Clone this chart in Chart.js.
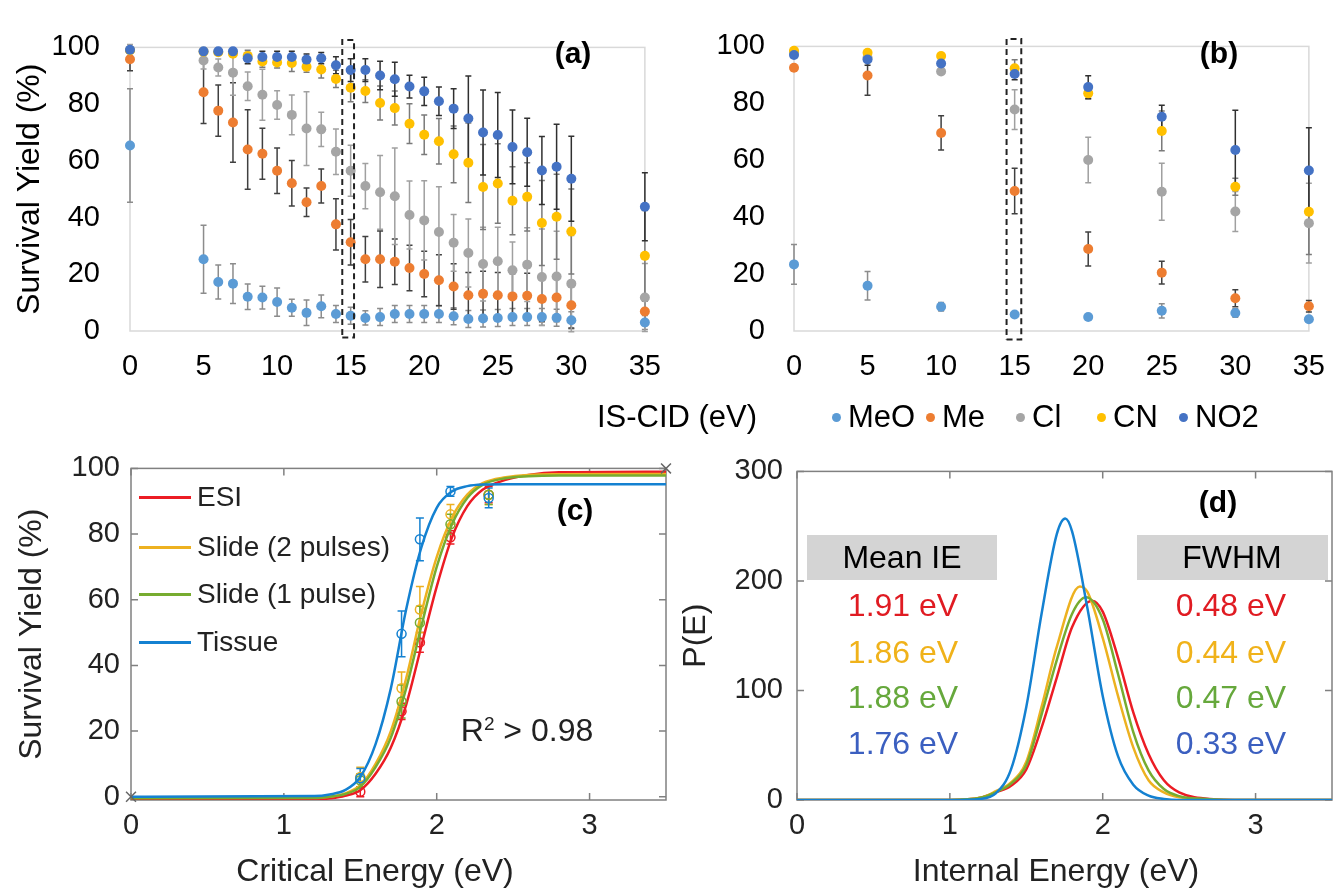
<!DOCTYPE html>
<html>
<head>
<meta charset="utf-8">
<script src="https://cdn.jsdelivr.net/npm/chart.js@4.4.1/dist/chart.umd.min.js"></script>
<style>
  body { margin: 0; background: #fff; font-family: "Liberation Sans", Arial, sans-serif; }
  #wrap { position: relative; width: 1344px; height: 890px; overflow: hidden; }
  canvas { position: absolute; }
  .txt { position: absolute; white-space: nowrap; transform: translate(-50%, -50%); line-height: 1.15; }
</style>
</head>
<body>
<div id="wrap">
  <canvas id="chartA" width="680" height="400" style="left:0;top:0"></canvas>
  <canvas id="chartB" width="664" height="400" style="left:680px;top:0"></canvas>
  <canvas id="chartC" width="690" height="450" style="left:0;top:440px"></canvas>
  <canvas id="chartD" width="664" height="450" style="left:680px;top:440px"></canvas>
</div>
<script>
// ---- panel (a): IS-CID energy, 1 eV steps ----
const cidA = [0, 5, 6, 7, 8, 9, 10, 11, 12, 13, 14, 15, 16, 17, 18, 19, 20, 21, 22, 23, 24, 25, 26, 27, 28, 29, 30, 35];
const meoA = [65.4, 25.3, 17.3, 16.7, 12.1, 11.8, 10.2, 8.2, 6.4, 8.7, 6.0, 5.4, 4.6, 4.9, 6.0, 6.0, 6.0, 6.0, 5.2, 4.2, 4.4, 4.6, 4.9, 4.9, 4.9, 4.7, 3.8, 3.0];
const meA  = [95.8, 84.2, 77.7, 73.5, 64.0, 62.5, 56.5, 52.1, 45.4, 51.1, 37.6, 31.3, 25.3, 25.3, 24.4, 22.2, 20.1, 17.9, 15.7, 12.6, 13.1, 12.6, 12.2, 12.4, 11.3, 11.8, 9.1, 6.9];
const clA  = [99.0, 95.4, 92.9, 91.1, 86.3, 83.3, 79.7, 76.2, 71.4, 71.1, 63.2, 56.5, 51.1, 48.9, 47.5, 40.9, 39.0, 34.9, 31.1, 27.5, 23.6, 24.6, 21.4, 23.4, 19.0, 19.2, 16.7, 11.8];
const cnA  = [99.0, 98.5, 98.3, 97.8, 97.0, 95.0, 94.7, 94.5, 93.2, 92.2, 88.9, 85.8, 84.6, 80.4, 78.6, 73.1, 69.2, 66.9, 62.3, 59.3, 50.8, 52.0, 45.9, 47.3, 38.1, 40.3, 35.1, 26.5];
const no2A = [99.2, 98.6, 98.6, 98.6, 96.2, 96.6, 96.6, 96.6, 95.7, 96.2, 93.7, 92.0, 92.0, 90.1, 88.8, 86.2, 84.5, 81.0, 78.4, 74.9, 70.0, 69.1, 64.9, 63.0, 56.6, 57.9, 53.7, 43.8];
const meoErrA = [20, 12, 6, 7, 4.5, 4, 5, 3, 4.5, 4, 3, 3, 2.5, 3, 3, 3, 3, 3, 3, 3, 3, 3, 3, 3, 3, 3, 3, 2.5];
const meErrA  = [4, 11, 9, 14, 14, 9, 8, 8, 5, 6, 9, 8, 8, 10, 8, 8, 8, 9, 8, 8, 8, 8, 8, 8, 8, 8, 8, 5];
const clErrA  = [2, 3, 3, 8, 5, 9, 5, 7, 13, 6, 8, 9, 8, 13, 17, 12, 14, 16, 10, 12, 13, 12, 10, 13, 17, 16, 17, 12];
const cnErrA  = [1, 1, 1, 1, 2, 2, 2, 3, 2, 3, 3, 5, 4, 6, 6, 7, 7, 8, 10, 14, 15, 14, 12, 12, 15, 15, 15, 16];
const no2ErrA = [1, 1, 1, 1, 2, 2, 2, 2, 2, 2, 3, 4, 4, 5, 6, 4, 5, 5, 7, 15, 15, 15, 13, 12, 12, 15, 15, 12];
const boxAx = [14.43, 15.23, 15.23, 14.43, 14.43];
const boxAy = [-2.3, -2.3, 102.6, 102.6, -2.3];

// ---- panel (b): 5 eV steps ----
const cidB = [0, 5, 10, 15, 20, 25, 30, 35];
const meoB = [23.4, 15.9, 8.5, 5.8, 4.9, 7.1, 6.3, 4.1];
const meB  = [92.5, 89.8, 69.6, 49.2, 28.8, 20.5, 11.5, 8.7];
const clB  = [98.0, 96.0, 91.2, 77.8, 60.1, 48.9, 42.0, 37.9];
const cnB  = [98.5, 97.8, 96.6, 92.3, 83.5, 70.3, 50.7, 41.9];
const no2B = [97.0, 95.4, 94.0, 90.3, 85.7, 75.3, 63.6, 56.4];
const meoErrB = [7, 5, 1.5, 1, 0.5, 2.5, 1.5, 1];
const meErrB  = [1, 7, 6, 8, 6, 4, 3, 2];
const clErrB  = [1, 1, 1, 7, 8, 10, 7, 14];
const cnErrB  = [1, 1, 1, 3, 2, 7, 3, 15];
const no2ErrB = [1, 2, 1, 2, 4, 4, 14, 15];
const boxBx = [14.45, 15.45, 15.45, 14.45, 14.45];
const boxBy = [-3, -3, 102.6, 102.6, -3];

const seriesNames = ['MeO', 'Me', 'Cl', 'CN', 'NO2'];
const seriesColors = ['#5b9bd5', '#ed7d31', '#a5a5a5', '#ffc000', '#4472c4'];
const errColors = ['#8c8c8c', '#404040', '#a0a0a0', '#7a7a7a', '#303030'];

// ---- panel (c): survival yield vs critical energy ----
const methodNames = ['ESI', 'Slide (2 pulses)', 'Slide (1 pulse)', 'Tissue'];
const methodColors = ['#ec1c24', '#edb120', '#77ac30', '#1481d1'];
const critE = [1.50, 1.77, 1.89, 2.09, 2.34];
const esiPts    = [1.5, 26, 47, 79, 92];
const slide2Pts = [6, 33, 57, 86, 92];
const slide1Pts = [5, 29, 53, 83, 92];
const tissuePts = [5.6, 49.6, 78.4, 93, 91];
const esiErr    = [1.5, 2.5, 3, 2, 2.5];
const slide2Err = [3, 5, 7, 3, 3];
const slide1Err = [2, 5, 5, 3, 3];
const tissueErr = [3, 7, 6.5, 1.5, 3];
const fitE = [0, 1.2, 1.3, 1.4, 1.5, 1.6, 1.7, 1.8, 1.9, 2.0, 2.1, 2.2, 2.3, 2.45, 2.6, 2.8, 3.5];
const esiFit    = [-1, -0.9, -0.5, 0.3, 2, 7, 15, 28, 46, 64, 79, 88.5, 93.5, 96.5, 98, 98.8, 99];
const slide2Fit = [-0.3, -0.2, 0, 1, 3.5, 10, 20, 36, 56, 73, 85, 92, 95.5, 97.3, 98, 98.2, 98.3];
const slide1Fit = [-0.5, -0.4, 0, 0.8, 3, 9, 18, 33, 52, 70, 83, 91, 95, 97, 97.6, 97.8, 97.8];
const tissueFit = [0, 0.2, 0.7, 2, 6, 16, 33, 57, 76, 88, 93, 94.6, 95.1, 95.2, 95.2, 95.2, 95.2];
const crossX = [0, 3.5];
const crossY = [0, 100];

// ---- panel (d): internal energy distributions ----
const esiE    = [0, 1.0, 1.2, 1.3, 1.4, 1.5, 1.6, 1.7, 1.8, 1.93, 2.0, 2.1, 2.2, 2.3, 2.4, 2.5, 2.7, 3.0, 3.5];
const esiP    = [0, 0, 2, 7, 13, 28, 66, 112, 158, 182, 172, 130, 80, 42, 18, 7, 1, 0, 0];
const slide2E = [0, 1.0, 1.2, 1.3, 1.4, 1.5, 1.6, 1.7, 1.85, 1.9, 2.0, 2.1, 2.2, 2.3, 2.4, 2.5, 2.7, 3.0, 3.5];
const slide2P = [0, 0, 2, 8, 16, 35, 85, 140, 195, 190, 148, 95, 48, 18, 7, 2.5, 0.5, 0, 0];
const slide1E = [0, 1.0, 1.2, 1.3, 1.4, 1.5, 1.6, 1.7, 1.8, 1.89, 2.0, 2.1, 2.2, 2.3, 2.4, 2.5, 2.7, 3.0, 3.5];
const slide1P = [0, 0, 2, 7, 15, 32, 78, 128, 170, 185, 165, 115, 62, 27, 10, 3.5, 0.8, 0, 0];
const tissueE = [0, 1.0, 1.2, 1.3, 1.4, 1.5, 1.6, 1.7, 1.755, 1.8, 1.9, 2.0, 2.1, 2.2, 2.3, 2.4, 2.5, 3.5];
const tissueP = [0, 0, 1, 6, 28, 85, 170, 243, 257, 245, 175, 95, 40, 14, 4, 1, 0, 0];
const meanIE = ['1.91 eV', '1.86 eV', '1.88 eV', '1.76 eV'];
const fwhm = ['0.48 eV', '0.44 eV', '0.47 eV', '0.33 eV'];
const statColors = ['#e01b22', '#f0b21a', '#66a83c', '#3b5fc0'];

Chart.defaults.font.family = '"Liberation Sans", Arial, sans-serif';
Chart.defaults.color = '#000';
Chart.defaults.animation = false;
Chart.defaults.plugins.legend.display = false;
Chart.defaults.plugins.tooltip.enabled = false;

const pts = (xs, ys) => xs.map((x, i) => ({ x: x, y: ys[i] }));

// plot frame, optionally with inward tick marks on all four sides
const framePlugin = {
  id: 'frame',
  beforeDatasetsDraw(chart, args, opts) {
    const { ctx, chartArea: a } = chart;
    ctx.save();
    ctx.strokeStyle = opts.color;
    ctx.lineWidth = opts.width;
    ctx.strokeRect(a.left, a.top, a.right - a.left, a.bottom - a.top);
    if (opts.innerTicks) {
      const len = 7;
      ctx.beginPath();
      chart.scales.x.ticks.forEach(t => {
        const px = chart.scales.x.getPixelForValue(t.value);
        ctx.moveTo(px, a.bottom); ctx.lineTo(px, a.bottom - len);
        ctx.moveTo(px, a.top); ctx.lineTo(px, a.top + len);
      });
      chart.scales.y.ticks.forEach(t => {
        const py = chart.scales.y.getPixelForValue(t.value);
        ctx.moveTo(a.left, py); ctx.lineTo(a.left + len, py);
        ctx.moveTo(a.right, py); ctx.lineTo(a.right - len, py);
      });
      ctx.stroke();
    }
    ctx.restore();
  }
};

// vertical error bars for datasets that carry an `errors` array
const errorBarPlugin = {
  id: 'errorBars',
  beforeDatasetsDraw(chart) {
    const { ctx } = chart;
    const x = chart.scales.x, y = chart.scales.y;
    chart.data.datasets.forEach(ds => {
      if (!ds.errors) return;
      ctx.save();
      ctx.strokeStyle = ds.errorColor;
      ctx.lineWidth = ds.errorWidth || 1.5;
      const cap = ds.errorCap || 3;
      ds.data.forEach((p, j) => {
        const e = ds.errors[j];
        const px = x.getPixelForValue(p.x);
        const top = y.getPixelForValue(p.y + e);
        const bot = y.getPixelForValue(p.y - e);
        ctx.beginPath();
        ctx.moveTo(px, top); ctx.lineTo(px, bot);
        ctx.moveTo(px - cap, top); ctx.lineTo(px + cap, top);
        ctx.moveTo(px - cap, bot); ctx.lineTo(px + cap, bot);
        ctx.stroke();
      });
      ctx.restore();
    });
  }
};

function dotSeries(xs, values, errors) {
  return values.map((v, i) => ({
    data: pts(xs, v),
    showLine: false,
    pointRadius: 5,
    pointBorderWidth: 0,
    pointBackgroundColor: seriesColors[i],
    errors: errors[i],
    errorColor: errColors[i],
    order: 5 - i,
    clip: false
  }));
}

function dashBox(xs, ys) {
  return { data: pts(xs, ys), showLine: true, borderColor: '#222', borderWidth: 2, borderDash: [6, 4],
           pointRadius: 0, tension: 0, clip: false, order: 0 };
}

function cidChart(id, xs, values, errors, box, opts) {
  new Chart(document.getElementById(id), {
    type: 'line',
    data: { datasets: dotSeries(xs, values, errors).concat([dashBox(box[0], box[1])]) },
    options: {
      responsive: false,
      layout: { padding: { left: 0, top: 28, right: opts.padRight, bottom: 0 } },
      scales: {
        x: { type: 'linear', min: 0, max: 35,
             ticks: { stepSize: 5, padding: 19, font: { size: 29 }, color: '#000' },
             grid: { display: false, drawTicks: false }, border: { display: false },
             afterFit: s => { s.height = 69; } },
        y: { min: 0, max: 100,
             ticks: { stepSize: 20, padding: opts.tickPad, font: { size: 29 }, color: '#000' },
             grid: { display: false, drawTicks: false }, border: { display: false },
             title: opts.title ? { display: true, text: opts.title, font: { size: 32 }, color: '#000', padding: { top: 11, bottom: 0 } } : { display: false },
             afterFit: s => { s.width = opts.yWidth; } }
      },
      plugins: { frame: { color: '#d9d9d9', width: 1.5 } }
    },
    plugins: [framePlugin, errorBarPlugin]
  });
}

cidChart('chartA', cidA, [meoA, meA, clA, cnA, no2A], [meoErrA, meErrA, clErrA, cnErrA, no2ErrA],
  [boxAx, boxAy], { padRight: 21, tickPad: 30, yWidth: 130, title: 'Survival Yield (%)' });
cidChart('chartB', cidB, [meoB, meB, clB, cnB, no2B], [meoErrB, meErrB, clErrB, cnErrB, no2ErrB],
  [boxBx, boxBy], { padRight: 20, tickPad: 29, yWidth: 114, title: null });

// ---- panel (c) ----
const fitSets = [esiFit, slide2Fit, slide1Fit, tissueFit];
const ptSets = [esiPts, slide2Pts, slide1Pts, tissuePts];
const errSets = [esiErr, slide2Err, slide1Err, tissueErr];
const dsC = [];
fitSets.forEach((f, i) => {
  dsC.push({ data: pts(fitE, f), borderColor: methodColors[i], borderWidth: 2.5, pointRadius: 0,
             cubicInterpolationMode: 'monotone', order: 4 - i });
  dsC.push({ data: pts(critE, ptSets[i]), showLine: false, pointRadius: 4.5, pointBorderWidth: 1.5,
             pointBorderColor: methodColors[i], pointBackgroundColor: 'rgba(0,0,0,0)',
             errors: errSets[i], errorColor: methodColors[i], errorCap: 4, order: 4 - i });
});
dsC.push({ data: pts(crossX, crossY), showLine: false, pointStyle: 'crossRot', pointRadius: 7,
           pointBorderWidth: 1.5, pointBorderColor: '#666', clip: false, order: 0 });

const boxTickScale = (min, max, step, pad, extra) => Object.assign({
  type: 'linear', min: min, max: max,
  ticks: { stepSize: step, includeBounds: false, padding: pad, font: { size: 29 }, color: '#222' },
  grid: { display: false, drawTicks: false }, border: { display: false }
}, extra);

new Chart(document.getElementById('chartC'), {
  type: 'line',
  data: { datasets: dsC },
  options: {
    responsive: false,
    layout: { padding: { left: 0, top: 28, right: 24, bottom: 0 } },
    scales: {
      x: boxTickScale(0, 3.5, 1, 9, { afterFit: s => { s.height = 90; } }),
      y: boxTickScale(-1, 100, 20, 11, {
        title: { display: true, text: 'Survival Yield (%)', font: { size: 32 }, color: '#222', padding: { top: 13, bottom: 0 } },
        afterFit: s => { s.width = 131; } })
    },
    plugins: { frame: { color: '#808080', width: 1.5, innerTicks: true } }
  },
  plugins: [framePlugin, errorBarPlugin]
});

// ---- panel (d) ----
const distE = [esiE, slide2E, slide1E, tissueE];
const distP = [esiP, slide2P, slide1P, tissueP];
new Chart(document.getElementById('chartD'), {
  type: 'line',
  data: {
    datasets: distP.map((p, i) => ({ data: pts(distE[i], p), borderColor: methodColors[i], borderWidth: 2.5,
      pointRadius: 0, cubicInterpolationMode: 'monotone', order: i === 3 ? 0 : 4 - i }))
  },
  options: {
    responsive: false,
    layout: { padding: { left: 0, top: 28, right: 12, bottom: 0 } },
    scales: {
      x: boxTickScale(0, 3.5, 1, 9, { afterFit: s => { s.height = 90; } }),
      y: boxTickScale(0, 300, 100, 14, {
        title: { display: true, text: 'P(E)', font: { size: 32, lineHeight: 1 }, color: '#222', padding: { top: 0, bottom: 0 } },
        afterFit: s => { s.width = 117; } })
    },
    plugins: { frame: { color: '#808080', width: 1.5, innerTicks: true } }
  },
  plugins: [framePlugin]
});

// ---- text overlays ----
const wrap = document.getElementById('wrap');
function addText(x, y, str, style) {
  const el = document.createElement('div');
  el.className = 'txt';
  el.style.left = x + 'px';
  el.style.top = y + 'px';
  Object.assign(el.style, style || {});
  el.innerHTML = str;
  wrap.appendChild(el);
  return el;
}
function addBox(x, y, w, h, color) {
  const el = document.createElement('div');
  Object.assign(el.style, { position: 'absolute', left: x + 'px', top: y + 'px', width: w + 'px', height: h + 'px', background: color });
  wrap.appendChild(el);
}

addText(573, 53, '(a)', { fontSize: '30px', fontWeight: 'bold' });
addText(1219, 53, '(b)', { fontSize: '30px', fontWeight: 'bold' });

// shared x title and legend for (a)/(b)
addText(677, 417, 'IS-CID (eV)', { fontSize: '31px' });
const legendDotX = [836, 930, 1020, 1101, 1183];
seriesNames.forEach((name, i) => {
  const dot = document.createElement('div');
  Object.assign(dot.style, { position: 'absolute', left: (legendDotX[i] - 4.5) + 'px', top: '412.5px', width: '9px', height: '9px',
    borderRadius: '50%', background: seriesColors[i] });
  wrap.appendChild(dot);
  const t = addText(legendDotX[i] + 12, 417, name, { fontSize: '31px', transform: 'translate(0,-50%)' });
});

// legend inside (c)
const legendRowY = [497, 547, 594, 642];
methodNames.forEach((name, i) => {
  const ln = document.createElement('div');
  Object.assign(ln.style, { position: 'absolute', left: '139px', top: (legendRowY[i] - 1.5) + 'px', width: '52px', height: '3px', background: methodColors[i] });
  wrap.appendChild(ln);
  addText(197, legendRowY[i], name, { fontSize: '28px', color: '#222', transform: 'translate(0,-50%)' });
});
addText(575, 510, '(c)', { fontSize: '30px', fontWeight: 'bold' });
addText(527, 730, 'R<sup style="font-size:19px;vertical-align:top;position:relative;top:1px">2</sup> &gt; 0.98', { fontSize: '32px', color: '#222' });
addText(375, 870, 'Critical Energy (eV)', { fontSize: '32px', color: '#222' });

// (d) annotation table
addText(1218, 502, '(d)', { fontSize: '30px', fontWeight: 'bold' });
addBox(807, 535, 190, 45, '#d4d4d4');
addBox(1137, 535, 191, 45, '#d4d4d4');
addText(902, 557, 'Mean IE', { fontSize: '32px' });
addText(1232, 557, 'FWHM', { fontSize: '32px' });
const statRowY = [605, 652, 697, 743];
meanIE.forEach((v, i) => addText(903, statRowY[i], v, { fontSize: '32px', color: statColors[i] }));
fwhm.forEach((v, i) => addText(1231, statRowY[i], v, { fontSize: '32px', color: statColors[i] }));
addText(1056, 870, 'Internal Energy (eV)', { fontSize: '32px', color: '#222' });
</script>
</body>
</html>
